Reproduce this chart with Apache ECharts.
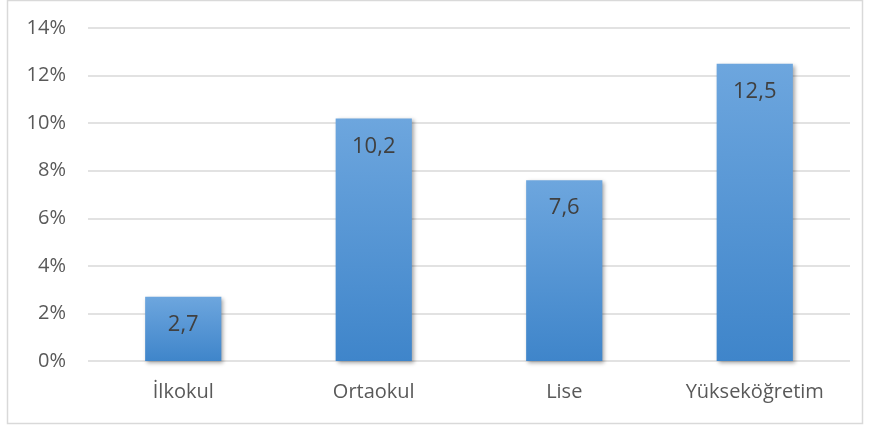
<!DOCTYPE html>
<html>
<head>
<meta charset="utf-8">
<script src="https://cdn.jsdelivr.net/npm/echarts@6/dist/echarts.min.js"></script>
<style>
  html, body { margin: 0; padding: 0; background: #fff; }
  #chart { width: 870px; height: 428px; }
</style>
</head>
<body>
<div id="chart"></div>
<script>
// Education levels and their shares (%)
const categories = ['İlkokul', 'Ortaokul', 'Lise', 'Yükseköğretim'];
const values = [2.7, 10.2, 7.6, 12.5];
const yTicks = [0, 2, 4, 6, 8, 10, 12, 14];

const chart = echarts.init(document.getElementById('chart'));
const fontFamily = '"Open Sans", "Noto Sans", sans-serif';

chart.setOption({
  animation: false,
  backgroundColor: '#ffffff',
  graphic: [{
    type: 'rect',
    shape: { x: 7.5, y: 0.5, width: 855, height: 423 },
    style: { fill: 'none', stroke: '#d9d9d9', lineWidth: 1.5 },
    silent: true
  }],
  grid: { left: 88, right: 20, top: 28, bottom: 67 },
  xAxis: {
    type: 'category',
    data: categories,
    axisLine: { show: false },
    axisTick: { show: false },
    axisLabel: { color: '#595959', fontSize: 20, fontFamily, margin: 21 }
  },
  yAxis: {
    type: 'value',
    min: yTicks[0],
    max: yTicks[yTicks.length - 1],
    interval: 2,
    axisLine: { show: false },
    axisTick: { show: false },
    splitLine: { lineStyle: { color: '#d9d9d9', width: 1.5 } },
    axisLabel: { color: '#595959', fontSize: 20, fontFamily, margin: 22, formatter: v => v + '%' }
  },
  series: [{
    type: 'bar',
    data: values,
    barWidth: '40%',
    itemStyle: {
      color: new echarts.graphic.LinearGradient(0, 0, 0, 1, [
        { offset: 0, color: '#6da6de' },
        { offset: 1, color: '#3f85ca' }
      ]),
      shadowColor: 'rgba(0,0,0,0.35)',
      shadowBlur: 4,
      shadowOffsetX: 2,
      shadowOffsetY: 2
    },
    label: {
      show: true,
      position: 'insideTop',
      distance: 17,
      color: '#404040',
      fontSize: 22,
      fontFamily,
      formatter: p => String(p.value).replace('.', ',')
    }
  }]
});
</script>
</body>
</html>
